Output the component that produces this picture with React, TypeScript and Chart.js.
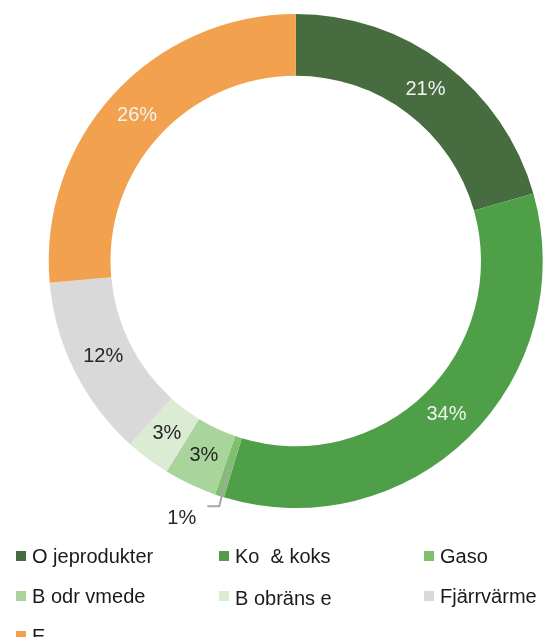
import React, { useEffect, useRef } from "react";
import { Chart, registerables } from "chart.js";

Chart.register(...registerables);

const categories = [
  "O jeprodukter",
  "Ko  & koks",
  "Gaso",
  "B odr vmede",
  "B obräns e",
  "Fjärrvärme",
  "E",
];
const shares = [20.6, 34.1, 0.6, 3.45, 2.95, 11.9, 26.4];
const sliceColors = ["#476C3F", "#4E9F47", "#80BF6E", "#A9D49B", "#DCEBD4", "#D9D9D9", "#F2A14E"];
const labelColors = ["#F2F2F2", "#F2F2F2", "#262626", "#262626", "#262626", "#262626", "#F2F2F2"];

const FONT = '"Liberation Sans", Arial, Helvetica, sans-serif';

const sliceLabels = {
  id: "sliceLabels",
  afterDatasetsDraw(chart: any) {
    const ctx = chart.ctx;
    const meta = chart.getDatasetMeta(0);
    ctx.save();
    ctx.font = `20px ${FONT}`;
    ctx.textBaseline = "middle";
    meta.data.forEach((arc: any, i: number) => {
      const p = arc.getProps(["x", "y", "startAngle", "endAngle", "innerRadius", "outerRadius"], true);
      const mid = (p.startAngle + p.endAngle) / 2;
      const rMid = (p.innerRadius + p.outerRadius) / 2 - 1;
      const text = Math.round(shares[i]) + "%";
      if (shares[i] < 1.5) {
        const x0 = p.x + Math.cos(mid) * rMid;
        const y0 = p.y + Math.sin(mid) * rMid;
        const r1 = p.outerRadius + 10;
        const x1 = p.x + Math.cos(mid - 0.012) * r1;
        const y1 = p.y + Math.sin(mid - 0.012) * r1;
        const x2 = x1 - 12;
        ctx.strokeStyle = "#A6A6A6";
        ctx.lineWidth = 2;
        ctx.beginPath();
        ctx.moveTo(x0, y0);
        ctx.lineTo(x1, y1);
        ctx.lineTo(x2, y1);
        ctx.stroke();
        ctx.fillStyle = "#262626";
        ctx.textAlign = "right";
        ctx.fillText(text, x2 - 11, y1 + 12);
      } else {
        ctx.fillStyle = labelColors[i];
        ctx.textAlign = "center";
        ctx.fillText(text, p.x + Math.cos(mid) * rMid, p.y + Math.sin(mid) * rMid);
      }
    });
    ctx.restore();
  },
};

export default function App() {
  const ref = useRef<HTMLCanvasElement | null>(null);
  useEffect(() => {
    if (!ref.current) return;
    const chart = new Chart(ref.current, {
      type: "doughnut",
      data: {
        labels: categories,
        datasets: [
          {
            data: shares,
            backgroundColor: sliceColors,
            borderWidth: 0,
          },
        ],
      },
      options: {
        responsive: false,
        maintainAspectRatio: false,
        animation: false,
        cutout: "75%",
        layout: { padding: { left: 48.5, top: 14, right: 13, bottom: 129 } },
        plugins: {
          legend: { display: false },
          tooltip: { enabled: false },
        },
      },
      plugins: [sliceLabels],
    });
    return () => chart.destroy();
  }, []);

  return (
    <div style={{ position: "absolute", left: 0, top: 0, width: 556, height: 637, overflow: "hidden", background: "#fff" }}>
      <canvas ref={ref} width={556} height={637} style={{ position: "absolute", left: 0, top: 0, width: 556, height: 637 }} />
      <div
        style={{
          position: "absolute",
          left: 16,
          top: 536,
          display: "grid",
          gridTemplateColumns: "203px 205px 140px",
          gridAutoRows: "40px",
          fontFamily: FONT,
          fontSize: 20,
          color: "#1A1A1A",
        }}
      >
        {categories.map((c, i) => (
          <div key={i} style={{ display: "flex", alignItems: "center", whiteSpace: "pre" }}>
            <span style={{ display: "inline-block", width: 10, height: 10, background: sliceColors[i], marginRight: 6, flex: "none" }} />
            <span style={{ position: "relative", top: i === 4 ? 2 : 0 }}>{c}</span>
          </div>
        ))}
      </div>
    </div>
  );
}
